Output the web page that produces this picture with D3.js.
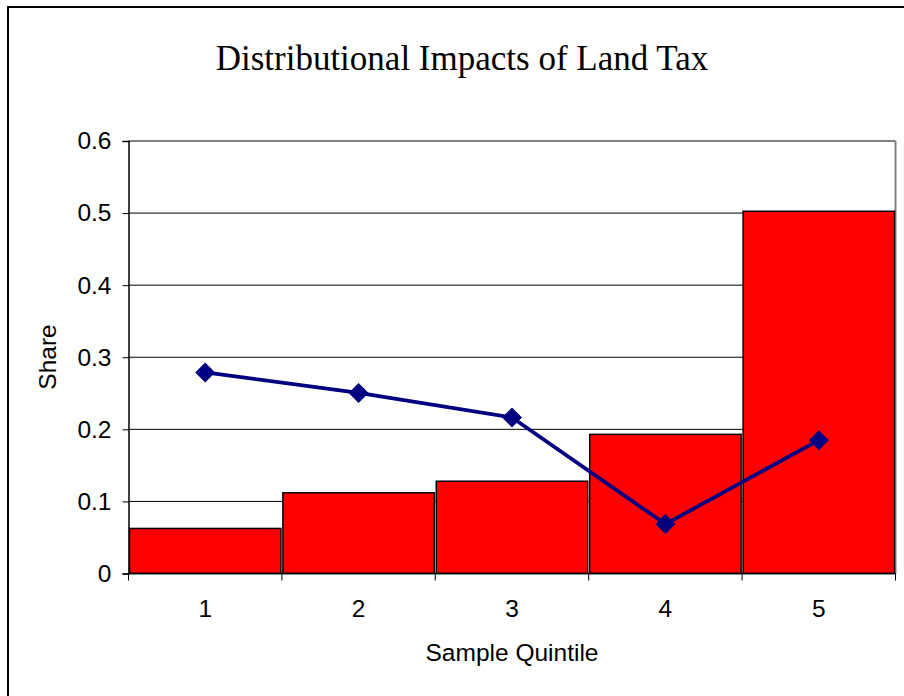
<!DOCTYPE html>
<html>
<head>
<meta charset="utf-8">
<script src="https://cdn.jsdelivr.net/npm/d3@7"></script>
<style>
  html, body { margin: 0; padding: 0; background: #fff; }
  svg { display: block; }
</style>
</head>
<body>
<svg id="chart" width="904" height="696"></svg>
<script>
// Quintile categories and the two series plotted against them
const quintiles = ["1", "2", "3", "4", "5"];
const barShares = [0.0625, 0.112, 0.128, 0.193, 0.5025];
const lineShares = [0.279, 0.2505, 0.2165, 0.0685, 0.185];
const yTicks = [0, 0.1, 0.2, 0.3, 0.4, 0.5, 0.6];

const svg = d3.select("#chart");
const plot = { left: 128.5, right: 895.5, top: 141, bottom: 573.5 };
const sans = "Liberation Sans, Arial, sans-serif";
const labelSize = 24.5;

// Outer chart frame (runs off the right and bottom edges)
svg.append("rect")
  .attr("x", 8).attr("y", 7)
  .attr("width", 1000).attr("height", 1000)
  .attr("fill", "#fff")
  .attr("stroke", "#000").attr("stroke-width", 2);

const x = d3.scaleBand().domain(quintiles)
  .range([plot.left, plot.right]).paddingInner(0).paddingOuter(0);
const y = d3.scaleLinear().domain([0, 0.6]).range([plot.bottom, plot.top]);

// Horizontal gridlines
svg.append("g")
  .selectAll("line")
  .data(yTicks.filter(d => d > 0))
  .join("line")
  .attr("x1", plot.left).attr("x2", plot.right)
  .attr("y1", d => y(d)).attr("y2", d => y(d))
  .attr("stroke", "#000").attr("stroke-width", 1);

// Right edge of the plot area
svg.append("line")
  .attr("x1", plot.right).attr("x2", plot.right)
  .attr("y1", plot.top).attr("y2", plot.bottom)
  .attr("stroke", "#808080").attr("stroke-width", 2);

// Bars
svg.append("g")
  .selectAll("rect")
  .data(barShares)
  .join("rect")
  .attr("x", (d, i) => x(quintiles[i]) + 1)
  .attr("y", d => y(d))
  .attr("width", x.bandwidth() - 2)
  .attr("height", d => y(0) - y(d))
  .attr("fill", "#ff0000")
  .attr("stroke", "#000").attr("stroke-width", 1.5);

// Y axis
const yAxis = d3.axisLeft(y).tickValues(yTicks)
  .tickFormat(d => d === 0 ? "0" : d3.format(".1f")(d))
  .tickSize(6).tickPadding(11);
const gy = svg.append("g")
  .attr("transform", `translate(${plot.left},0)`)
  .call(yAxis);
gy.select(".domain").attr("stroke", "#000").attr("stroke-width", 1.5);
gy.selectAll(".tick line").attr("stroke", "#000");
gy.selectAll(".tick text")
  .attr("font-family", sans)
  .attr("font-size", labelSize).attr("fill", "#000");

// X axis: ticks sit on the band boundaries, labels in the band centres
const boundaries = quintiles.map(q => x(q)).concat([plot.right]);
const gx = svg.append("g");
gx.append("line")
  .attr("x1", plot.left).attr("x2", plot.right)
  .attr("y1", plot.bottom).attr("y2", plot.bottom)
  .attr("stroke", "#000").attr("stroke-width", 1.5);
gx.selectAll(".bt")
  .data(boundaries)
  .join("line")
  .attr("class", "bt")
  .attr("x1", d => d).attr("x2", d => d)
  .attr("y1", plot.bottom).attr("y2", plot.bottom + 7)
  .attr("stroke", "#000").attr("stroke-width", 1);
gx.selectAll("text")
  .data(quintiles)
  .join("text")
  .attr("x", d => x(d) + x.bandwidth() / 2)
  .attr("y", 617)
  .attr("text-anchor", "middle")
  .attr("font-family", sans)
  .attr("font-size", labelSize)
  .text(d => d);

// Line series with diamond markers
const cx = i => x(quintiles[i]) + x.bandwidth() / 2;
svg.append("path")
  .datum(lineShares)
  .attr("d", d3.line().x((d, i) => cx(i)).y(d => y(d)))
  .attr("fill", "none")
  .attr("stroke", "#000080").attr("stroke-width", 3.8);
svg.append("g")
  .selectAll("path")
  .data(lineShares)
  .join("path")
  .attr("d", d3.symbol(d3.symbolSquare, 200))
  .attr("transform", (d, i) => `translate(${cx(i)},${y(d)}) rotate(45)`)
  .attr("fill", "#000080");

// Titles
svg.append("text")
  .attr("x", 462).attr("y", 70)
  .attr("text-anchor", "middle")
  .attr("font-family", "Liberation Serif, Times New Roman, serif")
  .attr("font-size", 35)
  .text("Distributional Impacts of Land Tax");

svg.append("text")
  .attr("x", 512).attr("y", 661)
  .attr("text-anchor", "middle")
  .attr("font-family", sans)
  .attr("font-size", labelSize)
  .text("Sample Quintile");

svg.append("text")
  .attr("transform", "translate(56,357) rotate(-90)")
  .attr("text-anchor", "middle")
  .attr("font-family", sans)
  .attr("font-size", labelSize)
  .text("Share");
</script>
</body>
</html>
